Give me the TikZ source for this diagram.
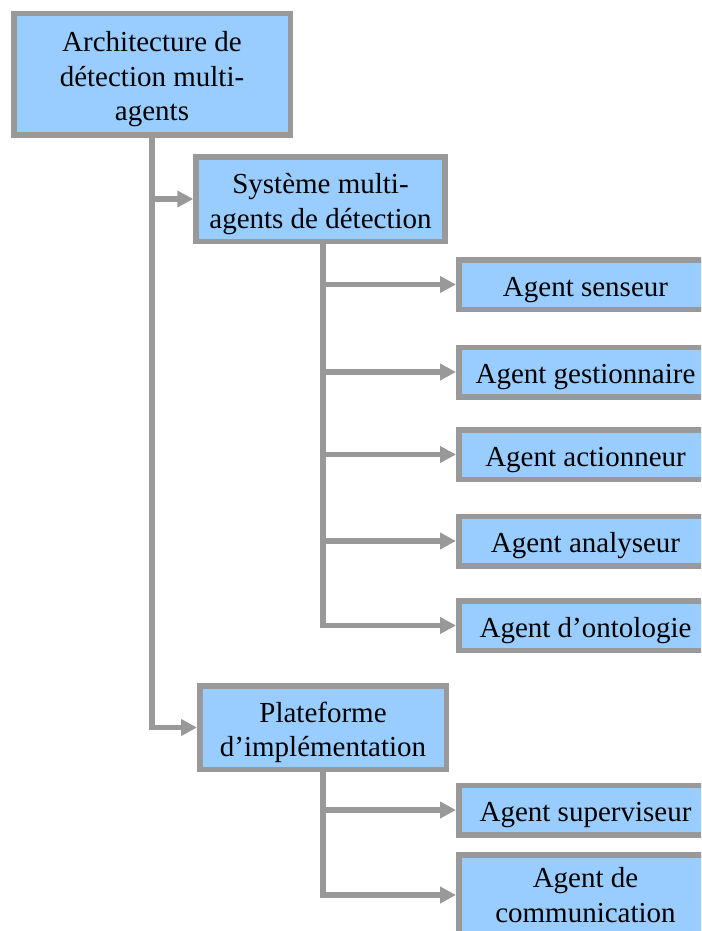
\documentclass[tikz,border=0pt]{standalone}
\usepackage{fontspec}
\setmainfont{Liberation Serif}
\usetikzlibrary{arrows.meta}
\definecolor{boxfill}{HTML}{99CCFF}
\definecolor{boxline}{HTML}{999999}
% tall strut for the first line, to set the text a little lower in its box
\newcommand{\firstline}{\rule{0pt}{30pt}}
\begin{document}
\begin{tikzpicture}[x=1pt,y=-1pt,
  box/.style={draw=boxline, fill=boxfill, line width=5.5pt, inner sep=0pt,
    align=center, text=black, font=\fontsize{29}{34.5}\selectfont},
  leaf/.style={box, minimum width=253.5pt, minimum height=49.5pt},
  conn/.style={draw=boxline, line width=5.5pt,
    -{Triangle[length=16pt,width=16pt]}},
]
\useasboundingbox (0,0) rectangle (701,931);
\clip (0,0) rectangle (701,931);

% root and the two sub-systems
\node[box, minimum width=276.5pt, minimum height=121.5pt] (arch) at (152,74.5)
  {\firstline Architecture de\\détection multi-\\agents};
\node[box, minimum width=249pt, minimum height=84.5pt] (sma) at (320.5,199)
  {\firstline Système multi-\\agents de détection};
\node[box, minimum width=246.5pt, minimum height=83.5pt] (plat) at (323,727.5)
  {\firstline Plateforme\\d’implémentation};

% agents of the detection system
\node[leaf] (senseur) at (585.5,284.5) {\firstline Agent senseur};
\node[leaf] (gestion) at (585.5,372) {\firstline Agent gestionnaire};
\node[leaf] (action)  at (585.5,454.5) {\firstline Agent actionneur};
\node[leaf] (analyse) at (585.5,541) {\firstline Agent analyseur};
\node[leaf] (onto)    at (585.5,625.5) {\firstline Agent d’ontologie};

% agents of the platform
\node[leaf] (superv) at (585.5,810) {\firstline Agent superviseur};
\node[leaf, minimum height=80.5pt] (comm) at (585.5,895)
  {Agent de\\communication};

% connectors
\draw[conn] (arch.south) |- (plat.west);
\draw[conn] (arch.south |- sma.west) -- (sma.west);

\coordinate (t2) at ([xshift=2.5pt]sma.south);
\draw[conn] (t2) |- (onto.west);
\foreach \n in {senseur,gestion,action,analyse}
  \draw[conn] (t2 |- \n.west) -- (\n.west);

\coordinate (t3) at (plat.south);
\draw[conn] (t3) |- (comm.west);
\draw[conn] (t3 |- superv.west) -- (superv.west);
\end{tikzpicture}
\end{document}
